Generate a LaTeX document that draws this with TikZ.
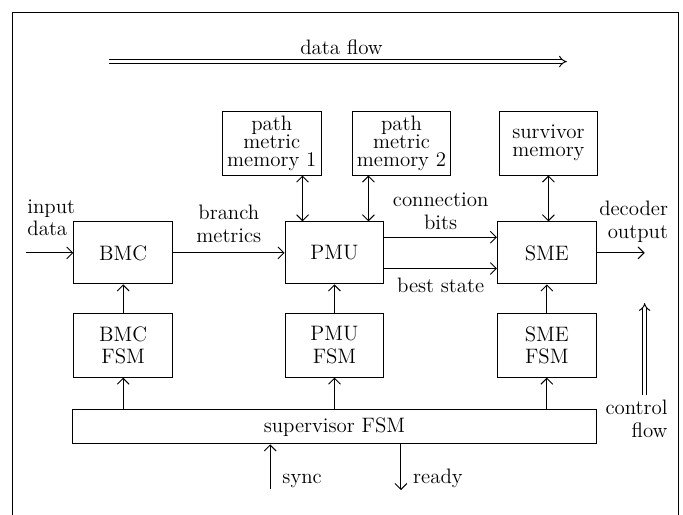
\documentclass[tikz,border=0pt]{standalone}
\usetikzlibrary{calc}
\usetikzlibrary{positioning}
\usetikzlibrary{arrows.meta}
\tikzset{every picture/.style={/utils/exec={\fontsize{11pt}{12pt}\selectfont}}}
\tikzset{
  blk/.style={draw, minimum width=1.83cm, minimum height=1.15cm, align=center, inner sep=1pt},
  memblk/.style={blk, minimum height=1.18cm, font=\fontsize{11pt}{9.6pt}\selectfont},
  flowarrow/.style={double, double distance=1.6pt, -{Implies[length=1.6mm]}},
}

\begin{document}
\begin{tikzpicture}[line width=0.5pt, >={Straight Barb[length=1.1mm,width=2.2mm]}]
  \useasboundingbox (0,0) rectangle (12.64,9.53);
  \draw (0.24,0) -- (0.24,9.30) -- (12.56,9.30) -- (12.56,0);

  % data flow
  \node at (6.32,8.66) (dflabel) {data flow};
  \coordinate (dfstart) at (2.02,8.39);
  \coordinate (dfend) at (10.49,8.39);
  \draw [flowarrow] (dfstart) -- (dfend);

  \foreach \n/\x in {BMC/2.28, PMU/6.19, SME/10.12} {
    \node [blk] at (\x,4.85) (\n) {\n};
    \node [blk, minimum height=1.18cm] at (\x,3.14) (\n-fsm) {\n\\FSM};
    \draw [->] (\n-fsm) -- (\n);
  }

  \node [memblk] at (5.03,6.88) (mem1) {path\\metric\\memory 1};
  \node [memblk] at (7.43,6.88) (mem2) {path\\metric\\memory 2};
  \node [memblk] at (10.15,6.88) (surv) {survivor\\memory};

  \node [draw, minimum width=9.68cm, minimum height=0.63cm] at (6.19,1.63) (sup) {supervisor FSM};
  \foreach \n in {BMC,PMU,SME}
    \draw [->] (sup.north -| \n-fsm) -- (\n-fsm);

  \coordinate (m1) at ($(PMU.north west)!0.18!(PMU.north east)$);
  \coordinate (m2) at ($(PMU.north west)!0.84!(PMU.north east)$);
  \draw [<->] (mem1.south -| m1) -- (m1);
  \draw [<->] (mem2.south -| m2) -- (m2);
  \draw [<->] (surv.south) -- (surv.south |- SME.north);

  \coordinate (in) at (0.48,4.85);
  \draw [->] (in) -- (BMC);
  \node [align=left, anchor=west] at (0.37,5.50) (inlabel) {input\\data};

  \draw [->] (BMC) -- node [above, align=center, yshift=0.05cm] (bmlabel) {branch\\metrics} (PMU);
  \draw [->] ([yshift=0.29cm]PMU.east) -- node [above, align=center] (cblabel) {connection\\bits} ([yshift=0.29cm]SME.west);
  \draw [->] ([yshift=-0.29cm]PMU.east) -- node [below, yshift=-0.04cm] (bslabel) {best state} ([yshift=-0.29cm]SME.west);

  \coordinate (out) at (11.93,4.85);
  \draw [->] (SME) -- (out);
  \node [align=right, anchor=east] at (12.50,5.43) (outlabel) {decoder\\output};

  % control flow
  \coordinate (cfbot) at (11.93,2.22);
  \coordinate (cftop) at (11.93,3.92);
  \draw [flowarrow] (cfbot) -- (cftop);
  \node [align=right, anchor=east] at (12.49,1.78) (cflabel) {control\\flow};

  \coordinate (sync) at (5.0,0.48);
  \coordinate (ready) at (7.42,0.46);
  \draw [->] (sync) -- (sync |- sup.south);
  \draw [->] (ready |- sup.south) -- (ready);
  \node [anchor=west] at ($(sync)+(0.09,0.15)$) (synclabel) {sync};
  \node [anchor=west] at ($(ready)+(0.09,0.22)$) (readylabel) {ready};

\end{tikzpicture}
\end{document}
